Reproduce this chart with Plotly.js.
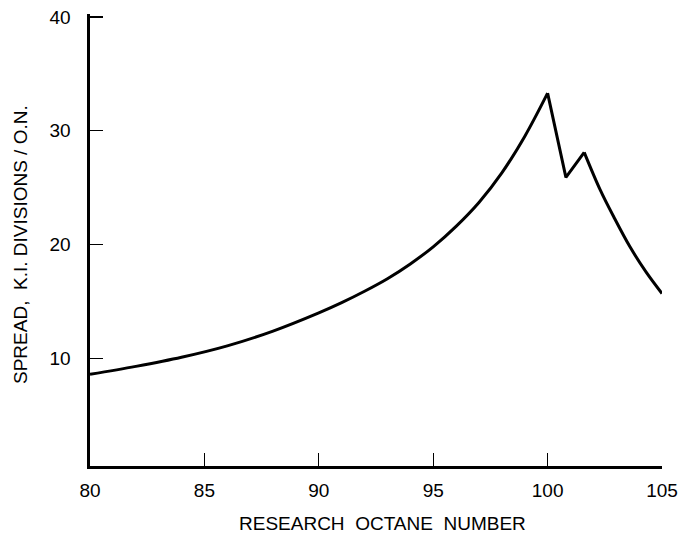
<!DOCTYPE html>
<html>
<head>
<meta charset="utf-8">
<script src="https://cdn.plot.ly/plotly-3.0.1.min.js"></script>
<style>html,body{margin:0;padding:0;background:#fff;}#chart{width:682px;height:544px;}</style>
</head>
<body>
<div id="chart"></div>
<script>
// Rising branch (smooth)
const riseOctane = [80, 82, 84, 86, 88, 90, 91, 92, 93, 94, 95, 96, 97, 98, 99, 100];
const riseSpread = [8.6, 9.3, 10.1, 11.1, 12.4, 14.0, 14.9, 15.9, 17.0, 18.3, 19.8, 21.6, 23.7, 26.3, 29.5, 33.3];
// Sharp dip between the two peaks
const dipOctane = [100, 100.8, 101.6];
const dipSpread = [33.3, 25.9, 28.1];
// Falling branch (smooth)
const fallOctane = [101.6, 102.3, 102.9, 103.6, 104.3, 105];
const fallSpread = [28.1, 24.8, 22.4, 19.8, 17.6, 15.7];

const xTicks = [80, 85, 90, 95, 100, 105];
const yTicks = [10, 20, 30, 40];
const xTitle = 'RESEARCH  OCTANE  NUMBER';
const yTitle = 'SPREAD,  K.I. DIVISIONS / O.N.';

const lineStyle = {color: '#000', width: 3};
const traces = [
  {x: riseOctane, y: riseSpread, mode: 'lines', line: Object.assign({shape: 'spline', smoothing: 1}, lineStyle), hoverinfo: 'x+y'},
  {x: dipOctane, y: dipSpread, mode: 'lines', line: Object.assign({shape: 'linear'}, lineStyle), hoverinfo: 'x+y'},
  {x: fallOctane, y: fallSpread, mode: 'lines', line: Object.assign({shape: 'spline', smoothing: 1}, lineStyle), hoverinfo: 'x+y'}
];

const fam = 'Liberation Sans, Arial, sans-serif';
const layout = {
  width: 682, height: 544,
  margin: {l: 90, r: 20, t: 14, b: 78},
  paper_bgcolor: '#fff', plot_bgcolor: '#fff',
  showlegend: false,
  font: {family: fam, color: '#000'},
  xaxis: {
    range: [80, 105], tickvals: xTicks, ticktext: xTicks.map(String),
    ticks: 'inside', ticklen: 13, tickwidth: 1.3, tickcolor: '#000',
    showline: true, linecolor: '#000', linewidth: 2.5,
    showgrid: false, zeroline: false,
    tickfont: {family: fam, size: 19, color: '#000'},
    ticklabelstandoff: 6
  },
  yaxis: {
    range: [0.55, 40.25], tickvals: yTicks, ticktext: yTicks.map(String),
    ticks: 'inside', ticklen: 13, tickwidth: 1.3, tickcolor: '#000',
    showline: true, linecolor: '#000', linewidth: 3.5,
    showgrid: false, zeroline: false,
    tickfont: {family: fam, size: 19, color: '#000'},
    ticklabelstandoff: 12
  },
  annotations: [
    {
      text: yTitle, xref: 'paper', yref: 'paper', x: -0.1206, y: 0.489,
      xanchor: 'center', yanchor: 'middle', textangle: -90, showarrow: false,
      font: {family: fam, size: 19, color: '#000'}
    },
    {
      text: xTitle, xref: 'paper', yref: 'paper', x: 0.511, y: -0.128,
      xanchor: 'center', yanchor: 'middle', showarrow: false,
      font: {family: fam, size: 19, color: '#000'}
    }
  ]
};

Plotly.newPlot('chart', traces, layout, {displayModeBar: false, staticPlot: true});
</script>
</body>
</html>
